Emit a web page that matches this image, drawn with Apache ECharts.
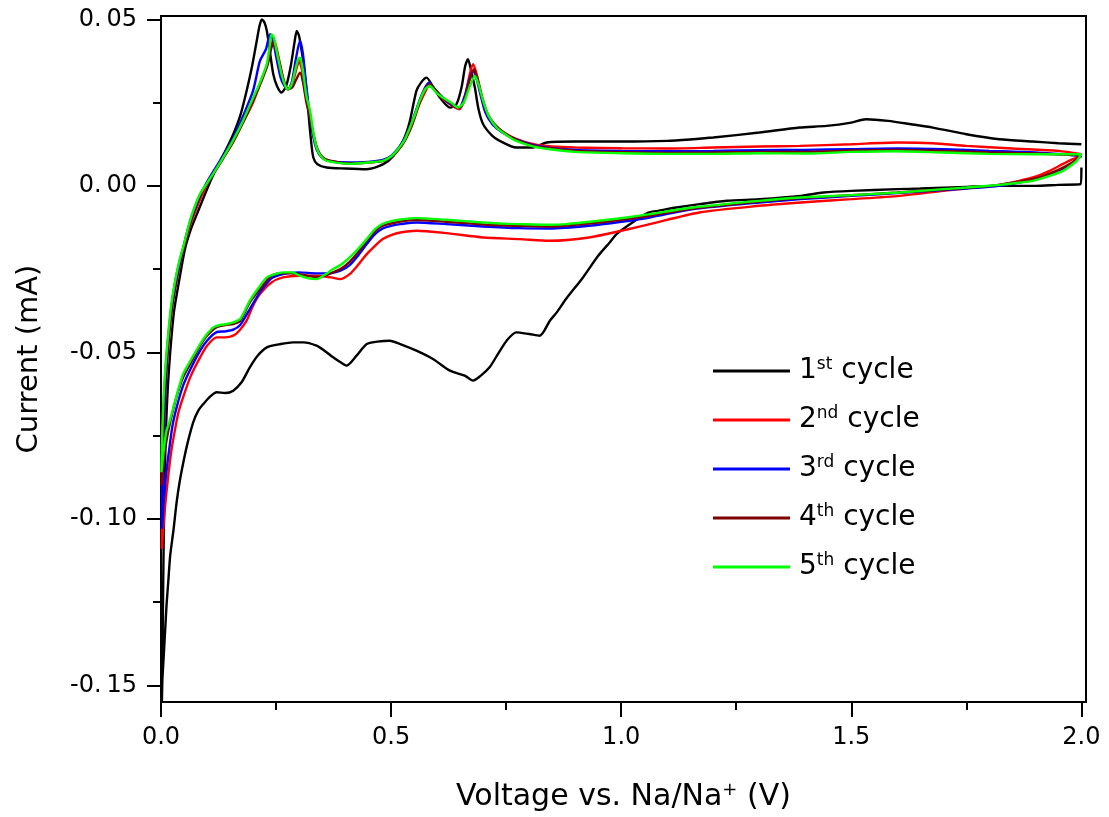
<!DOCTYPE html>
<html>
<head>
<meta charset="utf-8">
<script src="https://cdn.jsdelivr.net/npm/echarts@6/dist/echarts.min.js"></script>
<style>
  html, body { margin: 0; padding: 0; background: #fff; }
  #main { width: 1109px; height: 817px; }
</style>
</head>
<body>
<div id="main"></div>
<script>
// CV curves, [voltage (V), current (mA)], cathodic sweep then anodic sweep
var cycle1 = [
  [2.000, 0.0055], [1.998, 0.0005], [1.95, 0.0003], [1.90, 0.0], [1.82, 0.0], [1.75, -0.0003],
  [1.65, -0.0008], [1.60, -0.001], [1.50, -0.0015], [1.44, -0.002], [1.39, -0.003], [1.30, -0.004],
  [1.23, -0.0045], [1.17, -0.0055], [1.12, -0.0065], [1.08, -0.0075], [1.06, -0.008], [1.03, -0.0105],
  [0.99, -0.0145], [0.975, -0.017], [0.95, -0.021], [0.917, -0.0275], [0.88, -0.034], [0.86, -0.038],
  [0.845, -0.0405], [0.823, -0.045], [0.80, -0.0445], [0.772, -0.044], [0.751, -0.0465], [0.73, -0.051],
  [0.714, -0.0545], [0.695, -0.057], [0.678, -0.0585], [0.66, -0.057], [0.628, -0.0555], [0.591, -0.052],
  [0.555, -0.0495], [0.52, -0.0475], [0.497, -0.0465], [0.47, -0.0468], [0.447, -0.0475], [0.425, -0.051],
  [0.403, -0.054], [0.39, -0.053], [0.374, -0.0515], [0.355, -0.0495], [0.338, -0.048], [0.31, -0.047],
  [0.287, -0.047], [0.26, -0.0475], [0.23, -0.0485], [0.21, -0.051], [0.193, -0.0545], [0.175, -0.059],
  [0.157, -0.0615], [0.14, -0.0622], [0.121, -0.062], [0.105, -0.0635], [0.092, -0.0655], [0.081, -0.0675],
  [0.07, -0.071], [0.059, -0.0765], [0.05, -0.082], [0.041, -0.0885], [0.034, -0.095], [0.027, -0.1035],
  [0.02, -0.111], [0.016, -0.1185], [0.012, -0.126], [0.009, -0.1335], [0.006, -0.141], [0.003, -0.1485],
  [0.002, -0.155],
  [0.004, -0.13], [0.006, -0.105], [0.008, -0.088], [0.011, -0.072], [0.015, -0.06], [0.02, -0.05],
  [0.028, -0.038], [0.04, -0.028], [0.052, -0.019], [0.065, -0.013], [0.078, -0.0085], [0.1, -0.001],
  [0.121, 0.0055], [0.14, 0.0105], [0.157, 0.0155], [0.172, 0.021], [0.186, 0.0285], [0.198, 0.036],
  [0.208, 0.0435], [0.214, 0.048], [0.219, 0.050], [0.225, 0.049], [0.23, 0.0465], [0.237, 0.04],
  [0.244, 0.0335], [0.252, 0.030], [0.262, 0.028], [0.272, 0.030], [0.282, 0.036], [0.29, 0.043],
  [0.295, 0.0465], [0.3, 0.045], [0.305, 0.041], [0.309, 0.0375], [0.315, 0.030], [0.32, 0.0225],
  [0.325, 0.015], [0.331, 0.0085], [0.34, 0.0065], [0.36, 0.0055], [0.4, 0.0052], [0.447, 0.005],
  [0.483, 0.0065], [0.505, 0.009], [0.526, 0.0135], [0.54, 0.019], [0.555, 0.0285], [0.565, 0.031],
  [0.577, 0.0325], [0.59, 0.030], [0.606, 0.0265], [0.628, 0.0235], [0.642, 0.0245], [0.653, 0.0295],
  [0.661, 0.036], [0.667, 0.038], [0.674, 0.0345], [0.682, 0.0295], [0.69, 0.023], [0.70, 0.0185],
  [0.72, 0.015], [0.736, 0.0135], [0.772, 0.0115], [0.808, 0.0115], [0.838, 0.013], [0.9, 0.0133],
  [1.0, 0.0133], [1.1, 0.0135], [1.156, 0.014], [1.2, 0.0145], [1.3, 0.016], [1.388, 0.0175],
  [1.446, 0.018], [1.5, 0.019], [1.532, 0.020], [1.58, 0.0195], [1.63, 0.0185], [1.677, 0.0175],
  [1.75, 0.0155], [1.822, 0.014], [1.894, 0.0133], [1.95, 0.0128], [2.0, 0.0125]
];

var cycle2 = [
  [2.0, 0.0095], [1.99, 0.0085], [1.981, 0.008], [1.959, 0.0065], [1.931, 0.0045], [1.894, 0.0025],
  [1.85, 0.001], [1.822, 0.0003], [1.75, -0.0008], [1.7, -0.0015], [1.605, -0.003], [1.5, -0.004],
  [1.39, -0.005], [1.3, -0.006], [1.17, -0.008], [1.062, -0.0115], [1.0, -0.0135], [0.93, -0.0155],
  [0.845, -0.0165], [0.78, -0.016], [0.70, -0.0155], [0.62, -0.0142], [0.555, -0.0135], [0.52, -0.014],
  [0.50, -0.0148], [0.482, -0.016], [0.465, -0.018], [0.447, -0.0205], [0.428, -0.0238], [0.41, -0.0265],
  [0.389, -0.028], [0.37, -0.0275], [0.338, -0.027], [0.3, -0.027], [0.265, -0.0275], [0.24, -0.029],
  [0.215, -0.0325], [0.2, -0.036], [0.186, -0.0405], [0.17, -0.0435], [0.157, -0.045], [0.14, -0.0455],
  [0.121, -0.0455], [0.1, -0.048], [0.085, -0.0515], [0.065, -0.057], [0.048, -0.0635], [0.038, -0.068],
  [0.030, -0.0735], [0.022, -0.08], [0.015, -0.088], [0.009, -0.096], [0.005, -0.103], [0.002, -0.109],
  [0.003, -0.096], [0.005, -0.082], [0.008, -0.068], [0.012, -0.056], [0.018, -0.045], [0.025, -0.036],
  [0.035, -0.028], [0.048, -0.0195], [0.062, -0.0125], [0.075, -0.0075], [0.09, -0.0025], [0.11, 0.003],
  [0.135, 0.0085], [0.156, 0.013], [0.18, 0.0195], [0.2, 0.025], [0.22, 0.0325], [0.232, 0.037],
  [0.24, 0.042], [0.244, 0.044], [0.25, 0.042], [0.258, 0.037], [0.268, 0.031], [0.276, 0.029],
  [0.285, 0.0305], [0.294, 0.035], [0.3, 0.0375], [0.306, 0.035], [0.314, 0.028], [0.322, 0.022],
  [0.33, 0.016], [0.338, 0.0115], [0.35, 0.0085], [0.365, 0.0075], [0.41, 0.0068], [0.45, 0.007],
  [0.482, 0.0075], [0.5, 0.0088], [0.515, 0.0108], [0.53, 0.0138], [0.545, 0.018], [0.56, 0.024],
  [0.575, 0.0285], [0.582, 0.030], [0.595, 0.029], [0.61, 0.0265], [0.628, 0.0245], [0.648, 0.023],
  [0.66, 0.0265], [0.67, 0.033], [0.678, 0.0365], [0.685, 0.034], [0.695, 0.028], [0.705, 0.0225],
  [0.72, 0.019], [0.74, 0.0165], [0.77, 0.0142], [0.81, 0.0125], [0.85, 0.0118], [0.9, 0.0115],
  [1.0, 0.0113], [1.1, 0.0112], [1.2, 0.0115], [1.3, 0.0118], [1.388, 0.012], [1.5, 0.0125],
  [1.6, 0.013], [1.677, 0.0128], [1.75, 0.012], [1.85, 0.0112], [1.95, 0.0105], [2.0, 0.0095]
];

var cycle3 = [
  [2.0, 0.009], [1.98, 0.0068], [1.95, 0.0045], [1.9, 0.002], [1.82, 0.0], [1.75, -0.0008],
  [1.6, -0.0022], [1.5, -0.003], [1.39, -0.004], [1.3, -0.005], [1.156, -0.007], [1.062, -0.0095],
  [1.0, -0.0108], [0.93, -0.012], [0.845, -0.0128], [0.78, -0.0127], [0.7, -0.0122], [0.62, -0.0115],
  [0.555, -0.011], [0.52, -0.0115], [0.5, -0.012], [0.482, -0.0128], [0.465, -0.0145], [0.447, -0.0175],
  [0.428, -0.021], [0.41, -0.0238], [0.39, -0.0255], [0.37, -0.0262], [0.338, -0.0263], [0.3, -0.026],
  [0.265, -0.0265], [0.24, -0.0278], [0.215, -0.032], [0.193, -0.037], [0.172, -0.0418], [0.157, -0.0432],
  [0.14, -0.0437], [0.12, -0.044], [0.1, -0.0465], [0.085, -0.0495], [0.066, -0.0545], [0.048, -0.06],
  [0.035, -0.066], [0.025, -0.072], [0.017, -0.08], [0.01, -0.088], [0.005, -0.096], [0.002, -0.103],
  [0.003, -0.09], [0.005, -0.077], [0.008, -0.065], [0.012, -0.054], [0.018, -0.043], [0.025, -0.035],
  [0.035, -0.027], [0.048, -0.019], [0.06, -0.0125], [0.075, -0.0065], [0.09, -0.0015], [0.11, 0.0035],
  [0.135, 0.009], [0.156, 0.014], [0.18, 0.0215], [0.2, 0.0285], [0.215, 0.0375], [0.228, 0.041],
  [0.237, 0.0455], [0.243, 0.044], [0.25, 0.039], [0.26, 0.0325], [0.268, 0.03], [0.276, 0.029],
  [0.284, 0.031], [0.293, 0.038], [0.302, 0.0435], [0.308, 0.04], [0.315, 0.031], [0.322, 0.0225],
  [0.33, 0.0155], [0.338, 0.011], [0.35, 0.0085], [0.365, 0.0075], [0.41, 0.007], [0.45, 0.0072],
  [0.482, 0.0078], [0.5, 0.009], [0.515, 0.0112], [0.53, 0.0143], [0.545, 0.019], [0.56, 0.025],
  [0.572, 0.029], [0.582, 0.031], [0.595, 0.029], [0.612, 0.0265], [0.63, 0.0245], [0.648, 0.0235],
  [0.66, 0.027], [0.67, 0.032], [0.678, 0.0345], [0.686, 0.032], [0.695, 0.027], [0.705, 0.022],
  [0.72, 0.0185], [0.74, 0.0162], [0.77, 0.014], [0.81, 0.0122], [0.85, 0.0113], [0.9, 0.0108],
  [1.0, 0.0105], [1.1, 0.0104], [1.2, 0.0105], [1.3, 0.0107], [1.4, 0.0108], [1.5, 0.011],
  [1.6, 0.0112], [1.7, 0.011], [1.8, 0.0105], [1.9, 0.01], [2.0, 0.009]
];

var cycle4 = [
  [2.0, 0.0092], [1.98, 0.007], [1.95, 0.0048], [1.9, 0.0022], [1.82, 0.0003], [1.75, -0.0006],
  [1.6, -0.002], [1.5, -0.0028], [1.39, -0.0037], [1.3, -0.0047], [1.156, -0.0068], [1.062, -0.009],
  [1.0, -0.0102], [0.93, -0.0113], [0.845, -0.0122], [0.78, -0.012], [0.7, -0.0116], [0.62, -0.0108],
  [0.555, -0.0103], [0.52, -0.0107], [0.5, -0.0113], [0.482, -0.012], [0.465, -0.0137], [0.447, -0.0166],
  [0.428, -0.02], [0.41, -0.0228], [0.39, -0.025], [0.37, -0.0262], [0.35, -0.0272], [0.338, -0.0274],
  [0.3, -0.0265], [0.265, -0.0262], [0.24, -0.027], [0.215, -0.031], [0.193, -0.035], [0.172, -0.0405],
  [0.157, -0.0415], [0.14, -0.0418], [0.12, -0.0425], [0.1, -0.045], [0.085, -0.048], [0.066, -0.0528],
  [0.048, -0.0575], [0.035, -0.0628], [0.025, -0.068], [0.016, -0.0735], [0.009, -0.079], [0.004, -0.085],
  [0.001, -0.09],
  [0.002, -0.082], [0.004, -0.072], [0.007, -0.062], [0.011, -0.053], [0.016, -0.045], [0.022, -0.037],
  [0.03, -0.0295], [0.04, -0.0228], [0.048, -0.0188], [0.06, -0.0122], [0.07, -0.0078], [0.085, -0.0026],
  [0.1, 0.0006], [0.113, 0.0034], [0.135, 0.0082], [0.156, 0.013], [0.178, 0.019], [0.2, 0.0255],
  [0.22, 0.032], [0.232, 0.0365], [0.238, 0.0405], [0.244, 0.043], [0.25, 0.041], [0.258, 0.0365],
  [0.268, 0.031], [0.276, 0.029], [0.285, 0.0295], [0.294, 0.032], [0.302, 0.034], [0.308, 0.0315],
  [0.316, 0.025], [0.324, 0.0205], [0.332, 0.015], [0.34, 0.011], [0.35, 0.0088], [0.365, 0.0076],
  [0.41, 0.0067], [0.45, 0.007], [0.482, 0.0075], [0.5, 0.0087], [0.515, 0.0107], [0.53, 0.0136],
  [0.545, 0.0182], [0.558, 0.0235], [0.572, 0.0285], [0.584, 0.0305], [0.598, 0.0285], [0.612, 0.0265],
  [0.63, 0.0248], [0.648, 0.0233], [0.66, 0.026], [0.67, 0.0315], [0.68, 0.035], [0.688, 0.032],
  [0.698, 0.0265], [0.71, 0.0215], [0.725, 0.0185], [0.745, 0.016], [0.772, 0.0138], [0.81, 0.012],
  [0.85, 0.0112], [0.9, 0.0105], [1.0, 0.0101], [1.1, 0.0099], [1.2, 0.01], [1.3, 0.0102],
  [1.4, 0.0102], [1.5, 0.0106], [1.6, 0.0108], [1.7, 0.0105], [1.8, 0.01], [1.9, 0.0097], [2.0, 0.0092]
];

var cycle5 = [
  [2.0, 0.0095], [1.99, 0.0075], [1.981, 0.0065], [1.96, 0.0045], [1.931, 0.003], [1.894, 0.0015],
  [1.85, 0.0007], [1.822, 0.0003], [1.75, -0.0005], [1.70, -0.001], [1.605, -0.002], [1.50, -0.0028],
  [1.39, -0.0035], [1.30, -0.0045], [1.156, -0.0065], [1.062, -0.0085], [1.011, -0.0095], [0.95, -0.0105],
  [0.88, -0.0115], [0.845, -0.0117], [0.78, -0.0115], [0.736, -0.0113], [0.70, -0.011], [0.62, -0.0102],
  [0.555, -0.0097], [0.52, -0.0101], [0.50, -0.0106], [0.482, -0.0114], [0.465, -0.013], [0.447, -0.016],
  [0.428, -0.019], [0.41, -0.0215], [0.39, -0.0238], [0.374, -0.025], [0.355, -0.0268], [0.338, -0.028],
  [0.32, -0.0278], [0.302, -0.027], [0.285, -0.026], [0.265, -0.026], [0.248, -0.0265], [0.23, -0.0275],
  [0.21, -0.031], [0.193, -0.0345], [0.172, -0.040], [0.157, -0.041], [0.143, -0.0415], [0.128, -0.0418],
  [0.114, -0.0425], [0.1, -0.0445], [0.085, -0.0475], [0.066, -0.052], [0.048, -0.0565], [0.037, -0.0615],
  [0.027, -0.0665], [0.018, -0.071], [0.012, -0.0735], [0.007, -0.078], [0.003, -0.083], [0.001, -0.086],
  [0.002, -0.078], [0.004, -0.069], [0.007, -0.06], [0.011, -0.052], [0.016, -0.044], [0.022, -0.036],
  [0.03, -0.029], [0.04, -0.0225], [0.048, -0.0185], [0.06, -0.012], [0.07, -0.0075], [0.085, -0.0024],
  [0.1, 0.0008], [0.113, 0.0036], [0.135, 0.0085], [0.156, 0.0135], [0.178, 0.0195], [0.2, 0.0264],
  [0.215, 0.031], [0.23, 0.0366], [0.236, 0.042], [0.240, 0.0455], [0.245, 0.0445], [0.252, 0.040],
  [0.262, 0.0335], [0.27, 0.030], [0.276, 0.029], [0.284, 0.0305], [0.292, 0.035], [0.298, 0.038],
  [0.302, 0.0385], [0.308, 0.035], [0.316, 0.027], [0.324, 0.0225], [0.331, 0.016], [0.338, 0.0115],
  [0.348, 0.0088], [0.36, 0.0075], [0.41, 0.0066], [0.45, 0.007], [0.482, 0.0075], [0.5, 0.0088],
  [0.512, 0.0105], [0.528, 0.0135], [0.541, 0.0175], [0.552, 0.0215], [0.562, 0.0255], [0.574, 0.029],
  [0.584, 0.030], [0.598, 0.028], [0.612, 0.0265], [0.63, 0.025], [0.645, 0.0235], [0.658, 0.025],
  [0.67, 0.0295], [0.682, 0.033], [0.69, 0.0305], [0.70, 0.0255], [0.712, 0.021], [0.729, 0.0175],
  [0.75, 0.0153], [0.772, 0.0135], [0.81, 0.0118], [0.845, 0.011], [0.9, 0.0102], [1.0, 0.0098],
  [1.1, 0.0096], [1.2, 0.0096], [1.3, 0.0098], [1.4, 0.0097], [1.5, 0.0102], [1.6, 0.0104],
  [1.7, 0.010], [1.8, 0.0096], [1.9, 0.0095], [2.0, 0.0095]
];

var cycleNames = ['1st cycle', '2nd cycle', '3rd cycle', '4th cycle', '5th cycle'];
var cycleColors = ['#000000', '#ff0000', '#0000ff', '#800000', '#00ff00'];
var cycleData = [cycle1, cycle2, cycle3, cycle4, cycle5];

var xTicks = [0, 0.5, 1.0, 1.5, 2.0];
var xMinorTicks = [0.25, 0.75, 1.25, 1.75];
var yTicks = [-0.15, -0.10, -0.05, 0.00, 0.05];
var yMinorTicks = [-0.125, -0.075, -0.025, 0.025];

var FONT = '"DejaVu Sans", "Liberation Sans", Arial, sans-serif';
var chart = echarts.init(document.getElementById('main'));

var xRange = { min: 0, max: 2.01 };
var yRange = { min: -0.155, max: 0.051 };

var series = cycleData.map(function (d, i) {
  return {
    name: cycleNames[i],
    type: 'line',
    data: d,
    showSymbol: false,
    symbol: 'none',
    smooth: 0.25,
    lineStyle: { color: cycleColors[i], width: 2.4 },
    itemStyle: { color: cycleColors[i] },
    z: 2 + i
  };
});

var option = {
  animation: false,
  backgroundColor: '#fff',
  grid: {
    left: 161, right: 23, top: 16, bottom: 115,
    outerBoundsMode: 'none',
    show: true, borderColor: '#000', borderWidth: 2
  },
  legend: {
    orient: 'vertical',
    left: 713,
    top: 356,
    padding: 0,
    icon: 'rect',
    itemWidth: 77,
    itemHeight: 3,
    itemGap: 19,
    data: cycleNames,
    formatter: function (name) {
      return name.replace(/^(\d)(st|nd|rd|th)/, '$1{sup|$2}');
    },
    textStyle: {
      fontFamily: FONT, fontSize: 28, color: '#000', lineHeight: 30,
      padding: [0, 0, 0, 4],
      rich: {
        sup: { fontFamily: FONT, fontSize: 17, color: '#000', verticalAlign: 'top', lineHeight: 17 }
      }
    }
  },
  xAxis: [{
    type: 'value',
    min: xRange.min, max: xRange.max,
    name: 'Voltage vs. Na/Na{sup|+} (V)',
    nameLocation: 'middle',
    nameGap: 79,
    nameTextStyle: {
      fontFamily: FONT, fontSize: 30, color: '#000', lineHeight: 32,
      rich: { sup: { fontFamily: FONT, fontSize: 18, color: '#000', verticalAlign: 'top', lineHeight: 18 } }
    },
    splitLine: { show: false },
    axisLine: { show: true, onZero: false, lineStyle: { color: '#000', width: 2 } },
    axisTick: { show: true, inside: false, length: 15, lineStyle: { color: '#000', width: 2 }, customValues: xTicks },
    axisLabel: {
      customValues: xTicks,
      margin: 24,
      fontFamily: FONT, fontSize: 24, color: '#000',
      formatter: function (v) { return v.toFixed(1); }
    }
  }, {
    type: 'value',
    position: 'bottom',
    min: xRange.min, max: xRange.max,
    splitLine: { show: false },
    axisLine: { show: false, onZero: false },
    axisLabel: { show: false },
    axisTick: { show: true, length: 8, lineStyle: { color: '#000', width: 2 }, customValues: xMinorTicks }
  }],
  yAxis: [{
    type: 'value',
    min: yRange.min, max: yRange.max,
    name: 'Current (mA)',
    nameLocation: 'middle',
    nameGap: 117,
    nameRotate: 90,
    nameTextStyle: { fontFamily: FONT, fontSize: 29, color: '#000' },
    splitLine: { show: false },
    axisLine: { show: true, onZero: false, lineStyle: { color: '#000', width: 2 } },
    axisTick: { show: true, length: 14, lineStyle: { color: '#000', width: 2 }, customValues: yTicks },
    axisLabel: {
      customValues: yTicks,
      margin: 24,
      fontFamily: FONT, fontSize: 24, color: '#000',
      formatter: function (v) { return v.toFixed(2).replace('.', '.\u2009'); }
    }
  }, {
    type: 'value',
    position: 'left',
    min: yRange.min, max: yRange.max,
    splitLine: { show: false },
    axisLine: { show: false, onZero: false },
    axisLabel: { show: false },
    axisTick: { show: true, length: 8, lineStyle: { color: '#000', width: 2 }, customValues: yMinorTicks }
  }],
  series: series
};

chart.setOption(option);
</script>
</body>
</html>
